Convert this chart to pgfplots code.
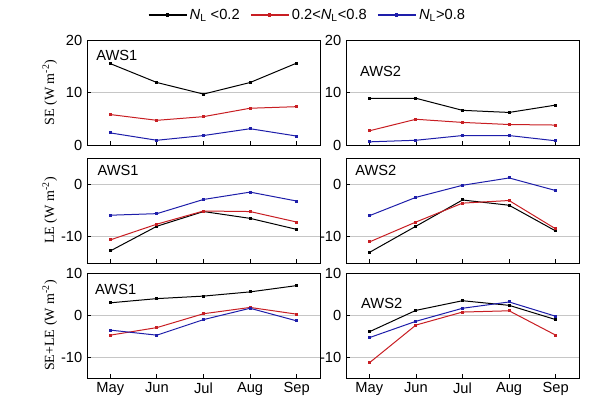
\documentclass[border=0pt]{standalone}
\usepackage{pgfplots}
\pgfplotsset{compat=1.18}
\usepackage{fontspec}
\setmainfont{Liberation Sans}
\newfontfamily\seriffont{Liberation Serif}
\definecolor{cred}{RGB}{200,30,35}
\definecolor{cblue}{RGB}{30,30,170}
\pgfplotsset{
  panel/.style={
    scale only axis, width=174.75pt, height=78.75pt,
    anchor=north west,
    xmin=-0.5, xmax=4.5, xtick={0,1,2,3,4},
    xticklabels={May,Jun,Jul,Aug,Sep},
    xtick pos=bottom, ytick pos=left, tick align=inside,
    major tick length=3pt,
    ymajorgrids, grid style={gray!45, line width=0.5pt},
    axis line style={line width=0.7pt},
    every tick/.style={black, line width=0.6pt},
    tick label style={font=\fontsize{11}{13}\selectfont},
    /pgf/number format/assume math mode=true,
    every axis y label/.style={at={(axis description cs:-0.16,0.5)}, anchor=center, rotate=90, font=\seriffont\fontsize{10.5}{12}\selectfont},
  },
  noxlab/.style={xticklabels={}},
  sb/.style={black, line width=0.75pt, mark=square*, mark size=0.75pt},
  sr/.style={cred, line width=0.75pt, mark=square*, mark size=0.75pt},
  su/.style={cblue, line width=0.75pt, mark=square*, mark size=0.75pt},
}
\begin{document}
\begin{tikzpicture}
\useasboundingbox (0,0) rectangle (450pt,315pt);
% SE AWS1
\begin{axis}[panel, noxlab, at={(65.25pt,285pt)}, ymin=0, ymax=20, ytick={0,10,20},
  ylabel={SE (W m\textsuperscript{-2})},
  legend columns=3,
  legend style={at={(axis description cs:0.948,1.238)}, anchor=center, draw=none, fill=none,
    font=\fontsize{11}{13}\selectfont,
    /tikz/every even column/.append style={column sep=6pt}},
  legend image code/.code={\draw[mark repeat=2,mark phase=2,#1] plot coordinates {(0cm,0cm) (0.5cm,0cm) (1cm,0cm)};}]
\addplot[sb] coordinates {(0,15.5) (1,11.9) (2,9.7) (3,11.9) (4,15.6)};
\addlegendentry{\textit{N}\textsubscript{L} <0.2}
\addplot[sr] coordinates {(0,5.8) (1,4.7) (2,5.4) (3,7.0) (4,7.3)};
\addlegendentry{0.2<\textit{N}\textsubscript{L}<0.8}
\addplot[su] coordinates {(0,2.3) (1,0.9) (2,1.8) (3,3.1) (4,1.7)};
\addlegendentry{\textit{N}\textsubscript{L}>0.8}
\node[anchor=west, font=\fontsize{11}{13}\selectfont] at (axis description cs:0.02,0.85) {AWS1};
\end{axis}
% SE AWS2
\begin{axis}[panel, noxlab, at={(259.5pt,285pt)}, ymin=0, ymax=20, ytick={0,10,20}]
\addplot[sb] coordinates {(0,8.9) (1,8.9) (2,6.6) (3,6.2) (4,7.6)};
\addplot[sr] coordinates {(0,2.7) (1,4.9) (2,4.3) (3,3.9) (4,3.8)};
\addplot[su] coordinates {(0,0.6) (1,0.9) (2,1.8) (3,1.8) (4,0.8)};
\node[anchor=west, font=\fontsize{11}{13}\selectfont] at (axis description cs:0.04,0.70) {AWS2};
\end{axis}
% LE AWS1
\begin{axis}[panel, noxlab, at={(65.25pt,196.5pt)}, ymin=-15, ymax=5, ytick={-10,0},
  ylabel={LE (W m\textsuperscript{-2})}]
\addplot[sb] coordinates {(0,-12.7) (1,-8.0) (2,-5.2) (3,-6.5) (4,-8.6)};
\addplot[sr] coordinates {(0,-10.6) (1,-7.6) (2,-5.1) (3,-5.2) (4,-7.2)};
\addplot[su] coordinates {(0,-5.9) (1,-5.6) (2,-2.9) (3,-1.5) (4,-3.2)};
\node[anchor=west, font=\fontsize{11}{13}\selectfont] at (axis description cs:0.025,0.88) {AWS1};
\end{axis}
% LE AWS2
\begin{axis}[panel, noxlab, at={(259.5pt,196.5pt)}, ymin=-15, ymax=5, ytick={-10,0}]
\addplot[sb] coordinates {(0,-13.0) (1,-8.0) (2,-3.0) (3,-4.0) (4,-8.9)};
\addplot[sr] coordinates {(0,-11.0) (1,-7.2) (2,-3.6) (3,-3.1) (4,-8.5)};
\addplot[su] coordinates {(0,-6.0) (1,-2.5) (2,-0.2) (3,1.2) (4,-1.2)};
\node[anchor=west, font=\fontsize{11}{13}\selectfont] at (axis description cs:0.02,0.88) {AWS2};
\end{axis}
% SE+LE AWS1
\begin{axis}[panel, at={(65.25pt,110.25pt)}, ymin=-15, ymax=10, ytick={-10,0,10},
  ylabel={SE+LE (W m\textsuperscript{-2})}]
\addplot[sb] coordinates {(0,2.9) (1,3.9) (2,4.5) (3,5.5) (4,7.0)};
\addplot[sr] coordinates {(0,-4.8) (1,-3.0) (2,0.3) (3,1.8) (4,0.2)};
\addplot[su] coordinates {(0,-3.6) (1,-4.8) (2,-1.1) (3,1.6) (4,-1.4)};
\node[anchor=west, font=\fontsize{11}{13}\selectfont] at (axis description cs:0.015,0.84) {AWS1};
\end{axis}
% SE+LE AWS2
\begin{axis}[panel, at={(259.5pt,110.25pt)}, ymin=-15, ymax=10, ytick={-10,0,10}]
\addplot[sb] coordinates {(0,-4.0) (1,1.1) (2,3.4) (3,2.3) (4,-1.1)};
\addplot[sr] coordinates {(0,-11.4) (1,-2.4) (2,0.7) (3,1.0) (4,-4.8)};
\addplot[su] coordinates {(0,-5.4) (1,-1.5) (2,1.6) (3,3.1) (4,-0.3)};
\node[anchor=west, font=\fontsize{11}{13}\selectfont] at (axis description cs:0.045,0.71) {AWS2};
\end{axis}
\end{tikzpicture}
\end{document}
